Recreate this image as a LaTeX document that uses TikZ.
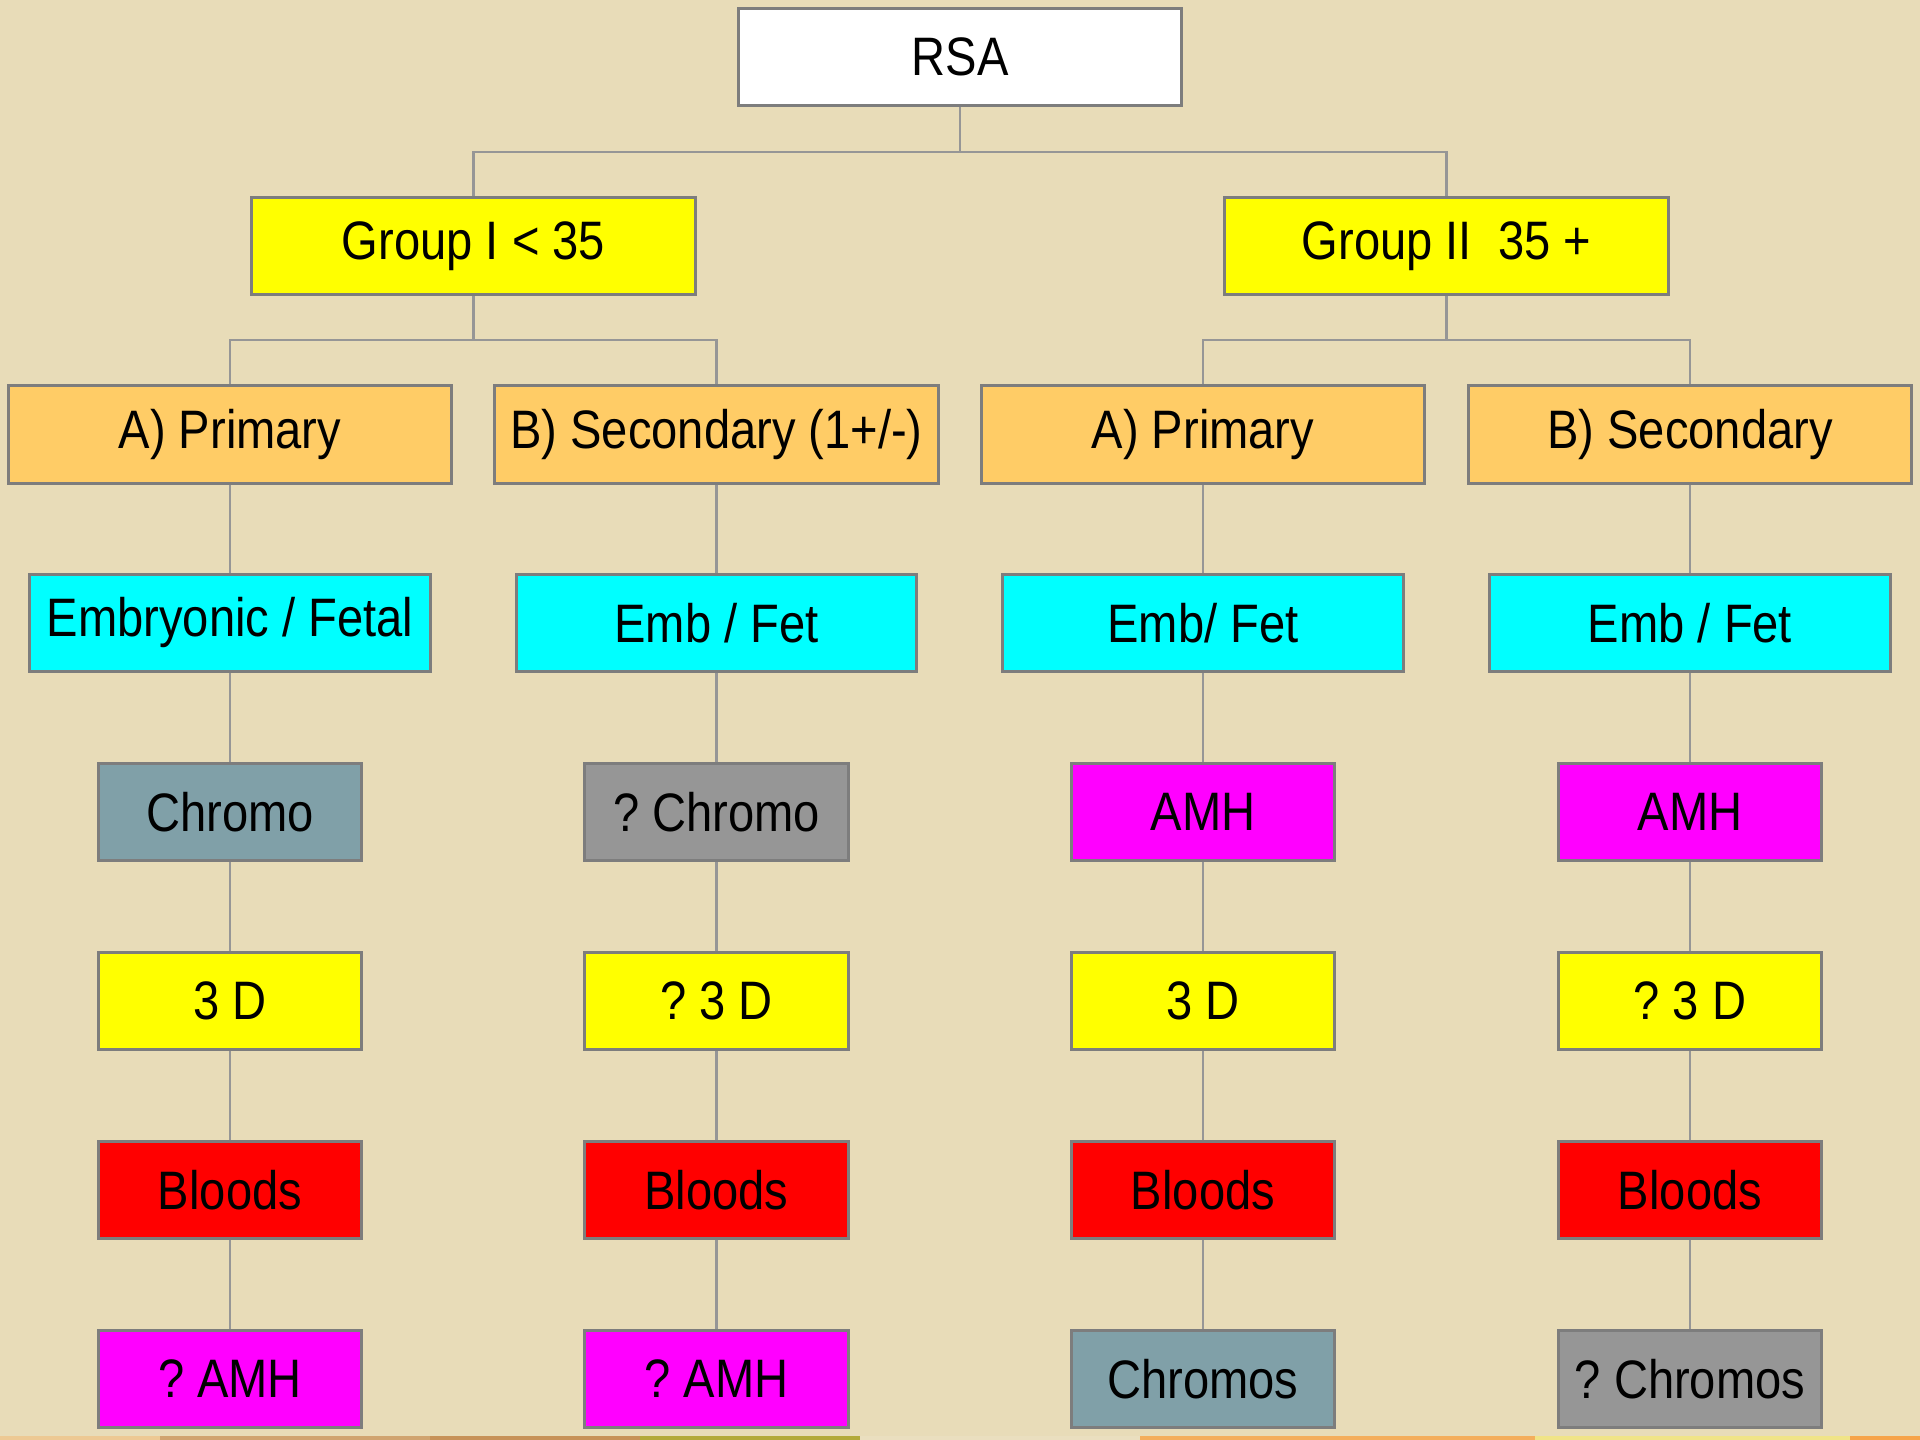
\documentclass[tikz,border=0pt]{standalone}
\usepackage{fontspec}
\setmainfont{Liberation Sans}[FakeStretch=0.87]
\usetikzlibrary{calc}
\frenchspacing
\definecolor{bg}{RGB}{232,220,184}
\definecolor{bordergray}{RGB}{125,125,125}
\definecolor{linegray}{RGB}{150,150,150}
\definecolor{orangebox}{RGB}{255,204,102}
\definecolor{cyanbox}{RGB}{0,255,255}
\definecolor{yellowbox}{RGB}{255,255,0}
\definecolor{bluegray}{RGB}{128,160,168}
\definecolor{graybox}{RGB}{150,150,150}
\definecolor{magentabox}{RGB}{255,0,255}
\definecolor{redbox}{RGB}{255,0,0}
\tikzset{
  box/.style={rectangle, draw=bordergray, line width=0.03cm, inner sep=0pt,
    minimum height=0.97cm, text=black, font=\fontsize{15.4pt}{18pt}\selectfont\frenchspacing},
  wtop/.style={box, minimum width=4.43cm},
  wmid/.style={box, minimum width=4.00cm},
  wsmall/.style={box, minimum width=2.63cm},
  conn/.style={draw=linegray, line width=0.025cm}
}
\begin{document}
\begin{tikzpicture}[x=0.01cm,y=-0.01cm]
\fill[bg] (0,0) rectangle (1920,1440);
% bottom strip
\fill[bg!80!orange] (0,1436) rectangle (160,1440);
\fill[brown!60!bg] (160,1436) rectangle (430,1440);
\fill[brown!80!bg] (430,1436) rectangle (640,1440);
\fill[olive!60!bg] (640,1436) rectangle (860,1440);
\fill[bg!90!white] (860,1436) rectangle (1140,1440);
\fill[orange!50!bg] (1140,1436) rectangle (1535,1440);
\fill[yellow!30!bg] (1535,1436) rectangle (1850,1440);
\fill[orange!60!bg] (1850,1436) rectangle (1920,1440);

% row 0
\node[wtop, fill=white] (rsa) at (960,57) {RSA};
% row 1
\node[wtop, fill=yellowbox] (g1) at (473.5,246) {Group I < 35};
\node[wtop, fill=yellowbox] (g2) at (1446.5,246) {Group II\ \ 35 +};
% row 2
\node[wtop, fill=orangebox] (a1) at (230,434.5) {A) Primary};
\node[wtop, fill=orangebox] (b1) at (716.5,434.5) {B) Secondary (1+/-)};
\node[wtop, fill=orangebox] (a2) at (1203,434.5) {A) Primary};
\node[wtop, fill=orangebox] (b2) at (1690,434.5) {B) Secondary};
% row 3
\node[wmid, fill=cyanbox] (e1) at (230,623) {Embryonic / Fetal};
\node[wmid, fill=cyanbox] (e2) at (716.5,623) {Emb / Fet};
\node[wmid, fill=cyanbox] (e3) at (1203,623) {Emb/ Fet};
\node[wmid, fill=cyanbox] (e4) at (1690,623) {Emb / Fet};
% row 4
\node[wsmall, fill=bluegray] (r41) at (230,812) {Chromo};
\node[wsmall, fill=graybox] (r42) at (716.5,812) {? Chromo};
\node[wsmall, fill=magentabox] (r43) at (1203,812) {AMH};
\node[wsmall, fill=magentabox] (r44) at (1690,812) {AMH};
% row 5
\node[wsmall, fill=yellowbox] (r51) at (230,1001) {3 D};
\node[wsmall, fill=yellowbox] (r52) at (716.5,1001) {? 3 D};
\node[wsmall, fill=yellowbox] (r53) at (1203,1001) {3 D};
\node[wsmall, fill=yellowbox] (r54) at (1690,1001) {? 3 D};
% row 6
\node[wsmall, fill=redbox] (r61) at (230,1190) {Bloods};
\node[wsmall, fill=redbox] (r62) at (716.5,1190) {Bloods};
\node[wsmall, fill=redbox] (r63) at (1203,1190) {Bloods};
\node[wsmall, fill=redbox] (r64) at (1690,1190) {Bloods};
% row 7
\node[wsmall, fill=magentabox] (r71) at (230,1379) {? AMH};
\node[wsmall, fill=magentabox] (r72) at (716.5,1379) {? AMH};
\node[wsmall, fill=bluegray] (r73) at (1203,1379) {Chromos};
\node[wsmall, fill=graybox] (r74) at (1690,1379) {? Chromos};

% bus coordinates
\coordinate (bus0) at (960,152);
\coordinate (bus1) at (473.5,340);
\coordinate (bus2) at (1446.5,340);

\draw[conn] (rsa.south) -- (bus0);
\draw[conn] (g1.north) |- (bus0) -| (g2.north);
\draw[conn] (g1.south) -- (bus1);
\draw[conn] (a1.north) |- (bus1) -| (b1.north);
\draw[conn] (g2.south) -- (bus2);
\draw[conn] (a2.north) |- (bus2) -| (b2.north);
\foreach \c in {1,2,3,4}{
  \draw[conn] (e\c.south) -- (r4\c.north);
  \draw[conn] (r4\c.south) -- (r5\c.north);
  \draw[conn] (r5\c.south) -- (r6\c.north);
  \draw[conn] (r6\c.south) -- (r7\c.north);
}
\draw[conn] (a1.south) -- (e1.north);
\draw[conn] (b1.south) -- (e2.north);
\draw[conn] (a2.south) -- (e3.north);
\draw[conn] (b2.south) -- (e4.north);
\end{tikzpicture}
\end{document}
